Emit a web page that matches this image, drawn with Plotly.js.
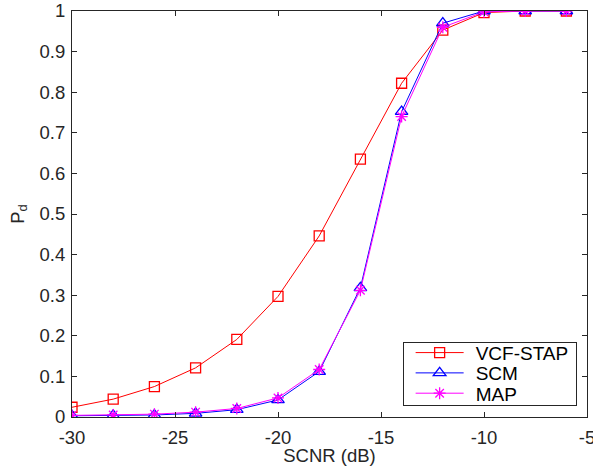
<!DOCTYPE html>
<html>
<head>
<meta charset="utf-8">
<script src="https://cdn.plot.ly/plotly-3.0.1.min.js"></script>
<style>html,body{margin:0;padding:0;background:#fff;}#chart{width:593px;height:475px;}</style>
</head>
<body>
<div id="chart"></div>
<script>
const scnr = [-30, -28, -26, -24, -22, -20, -18, -16, -14, -12, -10, -8, -6];
const vcfStap = [0.024, 0.044, 0.075, 0.121, 0.191, 0.297, 0.446, 0.635, 0.822, 0.953, 0.996, 1.0, 1.0];
const scm = [0.003, 0.004, 0.005, 0.009, 0.018, 0.042, 0.112, 0.318, 0.752, 0.970, 1.0, 1.0, 1.0];
const map = [0.004, 0.005, 0.007, 0.012, 0.021, 0.047, 0.117, 0.312, 0.740, 0.960, 0.998, 1.0, 1.0];
const xTickVals = [-30, -25, -20, -15, -10, -5];
const xTickText = ['-30', '-25', '-20', '-15', '-10', '-5'];
const yTickVals = [0, 0.1, 0.2, 0.3, 0.4, 0.5, 0.6, 0.7, 0.8, 0.9, 1];
const yTickText = ['0', '0.1', '0.2', '0.3', '0.4', '0.5', '0.6', '0.7', '0.8', '0.9', '1'];

const family = 'Liberation Sans, Arial, Helvetica, sans-serif';
const font = {family: family, size: 18.5, color: '#262626'};
const traces = [
  {x: scnr, y: vcfStap, name: 'VCF-STAP', mode: 'lines+markers', type: 'scatter',
   line: {color: '#ff0000', width: 1},
   marker: {symbol: 'square-open', size: 10, color: '#ff0000', line: {width: 1.3}}},
  {x: scnr, y: scm, name: 'SCM', mode: 'lines+markers', type: 'scatter',
   line: {color: '#0000ff', width: 1},
   marker: {symbol: 'triangle-up-open', size: 11, color: '#0000ff', line: {width: 1.3}}},
  {x: scnr, y: map, name: 'MAP', mode: 'lines+markers', type: 'scatter',
   line: {color: '#ff00ff', width: 1},
   marker: {symbol: 'asterisk-open', size: 10, color: '#ff00ff', line: {width: 1.3, color: '#ff00ff'}}}
];
const axisCommon = {
  showgrid: false, zeroline: false, showline: true, mirror: 'ticks',
  linecolor: '#262626', linewidth: 1, ticks: 'inside', ticklen: 5,
  tickcolor: '#262626', tickwidth: 1, tickfont: font, ticklabeloverflow: 'allow'
};
const layout = {
  width: 593, height: 475,
  margin: {l: 72, r: 6, t: 11, b: 58},
  paper_bgcolor: '#ffffff', plot_bgcolor: '#ffffff',
  font: font,
  showlegend: true,
  xaxis: Object.assign({}, axisCommon, {
    range: [-30, -5], tickmode: 'array', tickvals: xTickVals, ticktext: xTickText,
    ticklabelstandoff: 4,
    title: {text: 'SCNR (dB)', font: font, standoff: 0}
  }),
  yaxis: Object.assign({}, axisCommon, {
    range: [0, 1], tickmode: 'array', tickvals: yTickVals, ticktext: yTickText,
    ticklabelstandoff: 2,
    title: {text: 'P<sub>d</sub>', font: font, standoff: 10}
  }),
  legend: {
    x: 0.642, y: 0.185, xanchor: 'left', yanchor: 'top',
    bordercolor: '#262626', borderwidth: 1, bgcolor: '#ffffff',
    font: {family: family, size: 19, color: '#000000'},
    tracegroupgap: 0, itemwidth: 40
  }
};
Plotly.newPlot('chart', traces, layout, {displayModeBar: false, staticPlot: true}).then(function (gd) {
  // compact MATLAB-style legend: tighter rows, longer line samples, wider box
  const leg = gd.querySelector('.legend');
  if (!leg) return;
  const rowGap = 20.3, firstRow = 10.7, boxH = 63, boxW = 173;
  const lineX0 = 13, lineLen = 48, symX = 37, textX = 73;
  leg.querySelectorAll('.traces').forEach(function (g, i) {
    const m = /translate\(([-\d.]+),\s*([-\d.]+)\)/.exec(g.getAttribute('transform') || '');
    const tx = m ? parseFloat(m[1]) : 0;
    g.setAttribute('transform', 'translate(' + tx + ',' + (firstRow + i * rowGap) + ')');
    g.querySelectorAll('.legendlines path').forEach(function (p) {
      p.setAttribute('d', 'M' + (lineX0 - tx) + ',0h' + lineLen);
    });
    g.querySelectorAll('.legendpoints path').forEach(function (p) {
      p.setAttribute('transform', 'translate(' + (symX - tx) + ',0)');
    });
    g.querySelectorAll('text.legendtext').forEach(function (t) {
      t.setAttribute('x', textX - tx);
      t.querySelectorAll('tspan[x]').forEach(function (s) { s.setAttribute('x', textX - tx); });
    });
  });
  leg.querySelectorAll('rect.bg').forEach(function (r) {
    r.setAttribute('height', boxH);
    r.setAttribute('width', boxW);
    r.style.height = boxH + 'px';
    r.style.width = boxW + 'px';
  });
  gd.querySelectorAll('clipPath').forEach(function (cp) {
    if ((cp.id || '').indexOf('legend') !== -1) {
      cp.querySelectorAll('rect').forEach(function (r) {
        r.setAttribute('height', boxH);
        r.setAttribute('width', boxW);
      });
    }
  });
  leg.querySelectorAll('.scrollbox').forEach(function (s) { s.removeAttribute('clip-path'); });
  const xt = gd.querySelector('.xtitle');
  if (xt) xt.setAttribute('y', parseFloat(xt.getAttribute('y')) - 3);
});
</script>
</body>
</html>
